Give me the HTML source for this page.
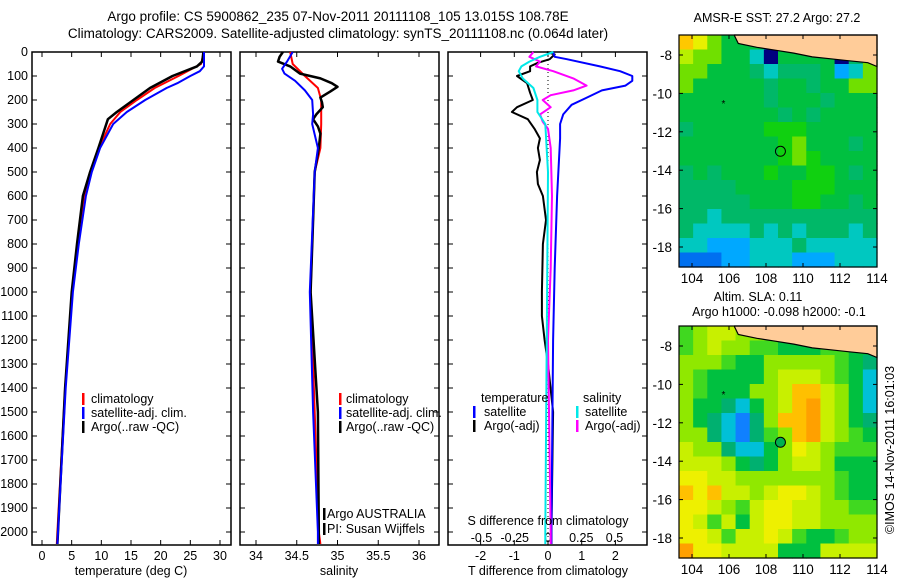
<!DOCTYPE html>
<html><head><meta charset="utf-8"><style>
html,body{margin:0;padding:0;background:#fff;}
svg{display:block;font-family:"Liberation Sans",sans-serif;}
</style></head><body>
<svg id="fig" width="900" height="580" viewBox="0 0 900 580" xmlns="http://www.w3.org/2000/svg">
<text x="338" y="21" font-size="13.5" text-anchor="middle">Argo profile: CS 5900862_235 07-Nov-2011 20111108_105 13.015S 108.78E</text>
<text x="338" y="38" font-size="13.5" text-anchor="middle">Climatology: CARS2009. Satellite-adjusted climatology: synTS_20111108.nc (0.064d later)</text>
<text x="777" y="22" font-size="12.5" text-anchor="middle">AMSR-E SST: 27.2 Argo: 27.2</text>
<text x="758" y="301" font-size="12.5" text-anchor="middle">Altim. SLA: 0.11</text>
<text x="779" y="316" font-size="12.5" text-anchor="middle">Argo h1000: -0.098 h2000: -0.1</text>
<text x="0" y="0" font-size="12.5" text-anchor="middle" transform="translate(894,450) rotate(-90)">©IMOS 14-Nov-2011 16:01:03</text>
</svg>
<script>
// ---------- profile data ----------
const tDepthArgo = [0,40,60,100,150,200,250,280,400,500,600,800,1000,1400,2000,2050];
const tArgo      = [27.2,27.0,26.1,22.0,18.2,15.4,12.6,11.1,9.5,8.1,6.9,5.9,5.0,3.9,2.7,2.6];
const tDepthClim = [0,50,100,150,200,250,300,400,500,600,800,1000,1400,2000,2050];
const tClim      = [27.3,26.8,23.0,19.0,16.0,13.2,11.5,9.6,8.2,7.1,6.0,5.1,3.9,2.6,2.5];
const tDepthSat  = [0,60,80,100,130,150,200,250,300,400,500,600,800,1000,1400,2000,2050];
const tSat       = [27.3,27.3,26.6,25.0,22.8,21.0,17.4,14.3,12.0,9.8,8.4,7.4,6.2,5.2,4.0,2.7,2.6];

const sDepthArgo = [0,20,40,60,90,110,130,145,165,190,210,230,260,280,310,340,400,500,700,1000,1500,2000,2050];
const sArgo      = [34.33,34.29,34.27,34.42,34.54,34.79,34.93,35.0,34.91,34.79,34.81,34.82,34.74,34.70,34.76,34.79,34.77,34.72,34.70,34.67,34.76,34.77,34.77];
const sDepthClim = [0,50,100,150,200,300,400,500,1000,1500,2000,2050];
const sClim      = [34.42,34.45,34.60,34.76,34.80,34.80,34.79,34.72,34.67,34.72,34.77,34.79];
const sDepthSat  = [0,40,70,90,120,160,200,260,300,400,500,1000,1500,2000,2050];
const sSat       = [34.45,34.38,34.32,34.35,34.48,34.60,34.69,34.70,34.69,34.76,34.72,34.66,34.70,34.76,34.76];

const dDepthTSat = [0,20,30,60,80,100,120,140,160,190,220,260,300,360,600,900,1200,2000,2050];
const dTSat      = [0.15,0.2,0.56,1.54,2.14,2.5,2.5,2.3,1.6,1.15,0.7,0.45,0.36,0.36,0.27,0.2,0.15,0.1,0.1];
const dDepthTArgo= [0,10,30,45,60,80,100,130,170,200,230,250,280,320,360,400,450,500,550,600,700,800,1000,1100,1200,1300,1500,2000,2050];
const dTArgo     = [-0.03,0.2,0.05,-0.3,-0.53,-0.53,-0.92,-0.62,-0.53,-0.45,-0.92,-1.07,-0.6,-0.4,-0.24,-0.3,-0.24,-0.33,-0.3,-0.15,-0.06,-0.15,-0.18,-0.18,-0.1,0,0.15,0.1,0.1];
const dDepthSSat = [0,20,40,60,80,110,150,200,250,300,500,2000,2050];
const dSSat      = [0.04,-0.06,-0.14,-0.2,-0.22,-0.19,-0.11,-0.08,-0.08,-0.02,0,-0.02,-0.02];
const dDepthSArgo= [0,20,40,60,80,110,140,160,180,200,230,260,290,320,400,600,900,1200,2000,2050];
const dSArgo     = [-0.11,-0.14,-0.06,-0.09,0.04,0.19,0.29,0.19,0.02,-0.04,0.02,-0.06,-0.04,0,0.02,0.03,0.02,0.0,0.02,0.02];

const depthTicks = [0,100,200,300,400,500,600,700,800,900,1000,1100,1200,1300,1400,1500,1600,1700,1800,1900,2000];
const tTicks = [0,5,10,15,20,25,30];
const sTicks = [34,34.5,35,35.5,36];
const sTickLabels = ["34","34.5","35","35.5","36"];
const dTTicks = [-2,-1,0,1,2];
const dSTicks = [-0.5,-0.25,0,0.25,0.5];

// ---------- map data ----------
const mapLonTicks = [104,106,108,110,112,114];
const mapLatTicks = [-8,-10,-12,-14,-16,-18];
const sstGrid = [
"a975553555555b","87755305555047","77555434445237","75555545545577",
"55555545554555","55555554545555","45555566655555","55555556755545",
"55555556765555","45455565566545","44445555666555","44444555665545",
"44344444444444","43333434344434","33222333433333","11122333222333"];
const slaGrid = [
"67887776566666","67877665556655","77765577777654","76555578887653",
"76555778aa8753","75543578ab8753","7543247aab8754","77432467ab8765",
"87743357987666","88875457887555","99887777777655","a9a88789987655",
"99876899887766","98685899887777","99868898655677","b9988885558888"];
const coastLon = [106.3,106.5,107.5,108.5,109.5,110.5,111.5,112.5,113.5,114.0];
const coastLat = [-7.0,-7.4,-7.6,-7.75,-7.9,-8.1,-8.2,-8.3,-8.4,-8.6];
const argoLon = 108.78, argoLat = -13.015;
const markLon = 105.7, markLat = -10.5;

const NS="http://www.w3.org/2000/svg";
const svg=document.getElementById('fig');
function mk(tag,attrs,parent){const e=document.createElementNS(NS,tag);for(const k in attrs)e.setAttribute(k,attrs[k]);(parent||svg).appendChild(e);return e;}

const pTop=52,pBot=545;
function yD(d){return pTop+d*0.24;}

function panel(x0,x1,name){
  const g=mk('g',{});
  
  
  const r=mk('rect',{x:x0,y:pTop,width:x1-x0,height:pBot-pTop,fill:'none',stroke:'#000','stroke-width':1.5},g);
  
  
  depthTicks.forEach(d=>{
    const t=mk('line',{x1:x0,x2:x0+5,y1:yD(d),y2:yD(d),stroke:'#000'},g);
    
    
    const t2=mk('line',{x1:x1,x2:x1-5,y1:yD(d),y2:yD(d),stroke:'#000'},g);
    
    
  });
  return g;
}
function xticks(g,ticks,labels,fx,ly){
  ticks.forEach((v,i)=>{
    const x=fx(v);
    const a=mk('line',{x1:x,x2:x,y1:pTop,y2:pTop+5,stroke:'#000'},g);
    
    
    const b=mk('line',{x1:x,x2:x,y1:pBot,y2:pBot-5,stroke:'#000'},g);
    
    
    if(ly){const t=mk('text',{x:x,y:ly,'font-size':12.5,'text-anchor':'middle'},g);t.textContent=labels[i];
    
    }
  });
}
function line(g,depths,vals,fx,color,name,w){
  const pts=depths.map((d,i)=>fx(vals[i]).toFixed(1)+','+yD(d).toFixed(1)).join(' ');
  const p=mk('polyline',{points:pts,fill:'none',stroke:color,'stroke-width':w||2,'stroke-linejoin':'round'},g);
  
  
}
function txt(g,x,y,s,name,anchor){const t=mk('text',{x:x,y:y,'font-size':12.5,'text-anchor':anchor||'start'},g);t.textContent=s;
  
  return t;}
function bar(g,x,y,color,name){const r=mk('rect',{x:x,y:y-10,width:2.5,height:12,fill:color},g);
  
  }

// Panel 1 temperature
const fT=v=>42+v*5.933;
const g1=panel(32,231,'temperature-panel');
depthTicks.forEach(d=>{const t=mk('text',{x:28,y:yD(d)+4,'font-size':12.5,'text-anchor':'end'});t.textContent=d;
  
  });
xticks(g1,tTicks,tTicks.map(String),fT,560);
line(g1,tDepthClim,tClim,fT,'#ff0000','temperature-climatology-line');
line(g1,tDepthArgo,tArgo,fT,'#000000','temperature-argo-line',2.5);
line(g1,tDepthSat,tSat,fT,'#0000ff','temperature-satellite-line');
txt(g1,131,575,'temperature (deg C)','temperature-axis-title','middle');
bar(g1,82,403,'#ff0000','legend-climatology-swatch');txt(g1,91,403,'climatology','legend-climatology');
bar(g1,82,417,'#0000ff','legend-satellite-swatch');txt(g1,91,417,'satellite-adj. clim.','legend-satellite');
bar(g1,82,431,'#000','legend-argo-swatch');txt(g1,91,431,'Argo(..raw -QC)','legend-argo');

// Panel 2 salinity
const fS=v=>256+(v-34)*81.5;
const g2=panel(240,439,'salinity-panel');
xticks(g2,sTicks,sTickLabels,fS,560);
line(g2,sDepthClim,sClim,fS,'#ff0000','salinity-climatology-line');
line(g2,sDepthArgo,sArgo,fS,'#000000','salinity-argo-line',2.5);
line(g2,sDepthSat,sSat,fS,'#0000ff','salinity-satellite-line');
txt(g2,339,575,'salinity','salinity-axis-title','middle');
bar(g2,339,403,'#ff0000','legend-climatology-swatch');txt(g2,346,403,'climatology','legend-climatology');
bar(g2,339,417,'#0000ff','legend-satellite-swatch');txt(g2,346,417,'satellite-adj. clim.','legend-satellite');
bar(g2,339,431,'#000','legend-argo-swatch');txt(g2,346,431,'Argo(..raw -QC)','legend-argo');
bar(g2,323,518,'#000','argo-agency-swatch');txt(g2,327,518,'Argo AUSTRALIA','argo-agency');
bar(g2,323,533,'#000','pi-swatch');txt(g2,327,533,'PI: Susan Wijffels','principal-investigator');

// Panel 3 differences
const fDT=v=>548+v*33.7;
const fDS=v=>548+v*133;
const g3=panel(448,647,'difference-panel');
xticks(g3,dTTicks,dTTicks.map(String),fDT,560);
dSTicks.forEach(v=>{txt(g3,fDS(v),542,String(v),'s-diff-tick-label','middle');});
const zl=mk('line',{x1:548,x2:548,y1:pTop,y2:pBot,stroke:'#000','stroke-dasharray':'1,3'},g3);


line(g3,dDepthTArgo,dTArgo,fDT,'#000000','t-diff-argo-line');
line(g3,dDepthTSat,dTSat,fDT,'#0000ff','t-diff-satellite-line');
line(g3,dDepthSArgo,dSArgo,fDS,'#ff00ff','s-diff-argo-line');
line(g3,dDepthSSat,dSSat,fDS,'#00e8e8','s-diff-satellite-line');
txt(g3,548,525,'S difference from climatology','s-diff-axis-title','middle');
txt(g3,548,575,'T difference from climatology','t-diff-axis-title','middle');
txt(g3,481,402,'temperature','legend-temperature-header');
bar(g3,473,416,'#0000ff','legend-t-satellite-swatch');txt(g3,484,416,'satellite','legend-t-satellite');
bar(g3,473,430,'#000','legend-t-argo-swatch');txt(g3,484,430,'Argo(-adj)','legend-t-argo');
txt(g3,583,402,'salinity','legend-salinity-header');
bar(g3,576,416,'#00e8e8','legend-s-satellite-swatch');txt(g3,585,416,'satellite','legend-s-satellite');
bar(g3,576,430,'#ff00ff','legend-s-argo-swatch');txt(g3,585,430,'Argo(-adj)','legend-s-argo');

// ---------- maps ----------
const pal={'0':'#000080','1':'#0070f0','2':'#00a8ff','3':'#00c8c0','4':'#00b868','5':'#00c040','6':'#10d010','7':'#70e000','8':'#b8f000','9':'#e8f000','a':'#ffc800','b':'#ff9800'};
const palSLA={'2':'#1080ff','3':'#00c0d8','4':'#00b070','5':'#00c040','6':'#40d820','7':'#90e800','8':'#c8f000','9':'#eef000','a':'#ffc000','b':'#ffa000'};
function map(top,grid,palette,name,filledCircle){
  const x0=679,x1=877,y1=top+232;
  const fx=lon=>692+(lon-104)*18.5;
  const fy=lat=>top+20+(-8-lat)*19.2;
  const g=mk('g',{});
  
  
  const rows=grid.length,cols=grid[0].length;
  const cw=(x1-x0)/cols,ch=(y1-top)/rows;
  grid.forEach((row,r)=>{for(let c=0;c<cols;c++){
    const cell=mk('rect',{x:x0+c*cw,y:top+r*ch,width:cw+0.6,height:ch+0.6,fill:palette[row[c]]||'#00c040'},g);
    
    
  }});
  let d='M'+fx(coastLon[0])+','+top;
  coastLon.forEach((lo,i)=>{d+=' L'+fx(lo).toFixed(1)+','+fy(coastLat[i]).toFixed(1);});
  d+=' L'+x1+','+fy(coastLat[coastLat.length-1]).toFixed(1)+' L'+x1+','+top+' Z';
  const land=mk('path',{d:d,fill:'#ffcc99',stroke:'#000','stroke-width':1.2},g);
  
  
  const fr=mk('rect',{x:x0,y:top,width:x1-x0,height:y1-top,fill:'none',stroke:'#000','stroke-width':1.2},g);
  
  
  mapLonTicks.forEach(lo=>{const x=fx(lo);
    const a=mk('line',{x1:x,x2:x,y1:top,y2:top+4,stroke:'#000'},g);
    
    
    const b=mk('line',{x1:x,x2:x,y1:y1,y2:y1-4,stroke:'#000'},g);
    
    
    const t=mk('text',{x:x,y:y1+16,'font-size':13.5,'text-anchor':'middle'},g);t.textContent=lo;
    
    });
  mapLatTicks.forEach(la=>{const y=fy(la);
    const a=mk('line',{x1:x0,x2:x0+4,y1:y,y2:y,stroke:'#000'},g);
    
    
    const b=mk('line',{x1:x1,x2:x1-4,y1:y,y2:y,stroke:'#000'},g);
    
    
    const t=mk('text',{x:672,y:y+5,'font-size':13.5,'text-anchor':'end'},g);t.textContent=la;
    
    });
  const m=mk('text',{x:fx(markLon),y:fy(markLat)+4,'font-size':10,'text-anchor':'middle'},g);m.textContent='*';
  
  
  const c=mk('circle',{cx:fx(argoLon),cy:fy(argoLat),r:5,fill:filledCircle?'#00b050':'none',stroke:'#000','stroke-width':1},g);
  
  
}
map(35,sstGrid,pal,'sst-map',false);
map(326,slaGrid,palSLA,'sla-map',true);
</script>
</body></html>
